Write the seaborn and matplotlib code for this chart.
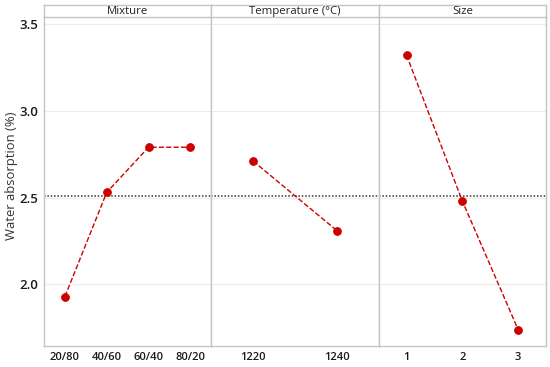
import matplotlib
matplotlib.use("Agg")
import matplotlib.pyplot as plt
import seaborn as sns
import pandas as pd

mixture_labels = ["20/80", "40/60", "60/40", "80/20"]
mixture_values = [1.93, 2.53, 2.79, 2.79]
temp_labels = ["1220", "1240"]
temp_values = [2.71, 2.31]
size_labels = ["1", "2", "3"]
size_values = [3.32, 2.48, 1.74]
panel_titles = ["Mixture", "Temperature (°C)", "Size"]
overall_mean = 2.51
y_ticks = [2.0, 2.5, 3.0, 3.5]

sns.set_theme(style="white")
plt.rcParams['font.family'] = ['Open Sans', 'DejaVu Sans']

fig = plt.figure(figsize=(5.5, 3.67), dpi=100)
left, right, bottom, top = 44/550, 546/550, 1 - 346/367, 1 - 17/367
strip_h = 12/367
panels = [(mixture_labels, mixture_values), (temp_labels, temp_values), (size_labels, size_values)]
width = (right - left) / 3
red = "#cc0000"
edge = "#c4c4c4"
axes = []
for i, ((labels, vals), title) in enumerate(zip(panels, panel_titles)):
    ax = fig.add_axes([left + i*width, bottom, width, top - bottom])
    df = pd.DataFrame({"level": labels, "value": vals})
    ax.set_axisbelow(True)
    ax.grid(True, color="#ececec", linewidth=0.8)
    sns.pointplot(data=df, x="level", y="value", order=labels, color=red,
                  errorbar=None, ax=ax, linestyle="--", linewidth=1.0,
                  marker="o", markersize=5.5)
    ax.axhline(overall_mean, color="#333333", linestyle=(0, (1, 1.2)), linewidth=1.1, zorder=1)
    ax.set_xlim(-0.5, len(labels) - 0.5)
    ax.set_ylim(1.645, 3.54)
    ax.set_yticks(y_ticks)
    ax.set_xlabel("")
    ax.set_ylabel("")
    for s in ax.spines.values():
        s.set_color(edge)
        s.set_linewidth(1.0)
    ax.spines['top'].set_visible(False)
    ax.tick_params(axis='x', labelsize=8, colors="#1a1a1a", length=0, pad=4)
    for t in ax.get_xticklabels():
        t.set_fontweight("semibold")
    if i == 0:
        ax.tick_params(axis='y', labelsize=9.5, colors="#1a1a1a", length=0, pad=4)
        for t in ax.get_yticklabels():
            t.set_fontweight("semibold")
    else:
        ax.tick_params(axis='y', labelleft=False, length=0)
    # strip
    sax = fig.add_axes([left + i*width, top, width, strip_h])
    sax.set_xticks([]); sax.set_yticks([])
    sax.set_facecolor("white")
    for s in sax.spines.values():
        s.set_color(edge)
        s.set_linewidth(1.0)
    sax.text(0.5, 0.45, title, ha="center", va="center", fontsize=8.2,
             color="#222222", transform=sax.transAxes)
    axes.append(ax)

fig.text(12/550, 1 - 176/367, "Water absorption (%)", rotation=90,
         ha="center", va="center", fontsize=9.4, color="#333333")

fig.savefig("out.png", dpi=100)
